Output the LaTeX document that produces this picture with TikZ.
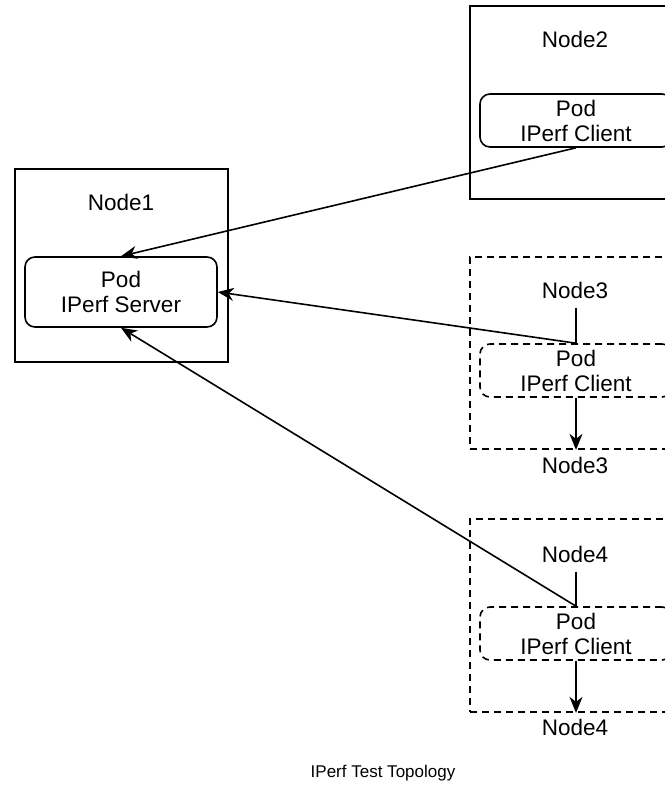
\documentclass[tikz,border=0pt]{standalone}
\usepackage{fontspec}
\setmainfont{Liberation Sans}
\usetikzlibrary{arrows.meta}
\begin{document}
\begin{tikzpicture}[x=1pt,y=-1pt,
  every node/.style={font=\fontsize{22.5}{25}\selectfont},
  hostbox/.style={draw, line width=1.7pt, inner sep=0pt},
  hostdash/.style={hostbox, dash pattern=on 7pt off 5pt},
  podbox/.style={draw, line width=1.6pt, rounded corners=10pt, align=center,
    minimum width=192pt, inner sep=0pt},
  poddash/.style={podbox, dash pattern=on 7pt off 5pt},
  lbl/.style={inner sep=0pt, outer ysep=4pt, text height=16pt, text depth=5pt},
  link/.style={line width=1.6pt, -{Stealth[length=16pt,width=13pt,inset=5pt]}},
  stem/.style={line width=1.6pt}]
\useasboundingbox (0,0) rectangle (664,789);

% Node1 with the server pod
\node[hostbox, minimum width=213pt, minimum height=193pt] (n1) at (121.5,265.5) {};
\node[lbl] (n1t) at (121,205) {Node1};
\node[podbox, minimum height=70pt] (srv) at (121,292) {Pod\\IPerf Server};

% Node2 with a client pod
\node[hostbox, minimum width=210pt, minimum height=193pt] (n2) at (575,102.5) {};
\node[lbl] (n2t) at (575,42) {Node2};
\node[podbox, minimum height=53pt] (p2) at (576,120.5) {Pod\\IPerf Client};

% Node3 with a client pod
\node[hostdash, minimum width=210pt, minimum height=192pt] (n3) at (575,353) {};
\node[lbl] (n3t) at (575,293) {Node3};
\node[poddash, minimum height=53pt] (p3) at (576,370.5) {Pod\\IPerf Client};
\node[lbl] (n3b) at (575,468) {Node3};

% Node4 with a client pod
\node[hostdash, minimum width=210pt, minimum height=193pt] (n4) at (575,615.5) {};
\node[lbl] (n4t) at (575,557) {Node4};
\node[poddash, minimum height=53pt] (p4) at (576,633.5) {Pod\\IPerf Client};
\node[lbl] (n4b) at (575,730) {Node4};

% Caption
\node[font=\fontsize{17}{20}\selectfont] (cap) at (383,773) {IPerf Test Topology};

% Client to server links
\draw[link] (p2.south) -- (srv.north);
\draw[link] (p3.north) -- (srv.east);
\draw[link] (p4.north) -- (srv.south);

% Label stems and downward arrows
\draw[stem] (n3t.south -| p3.north) -- (p3.north);
\draw[link] (p3.south) -- (p3.south |- n3.south);
\draw[stem] (n4t.south -| p4.north) -- (p4.north);
\draw[link] (p4.south) -- (p4.south |- n4.south);
\end{tikzpicture}
\end{document}
